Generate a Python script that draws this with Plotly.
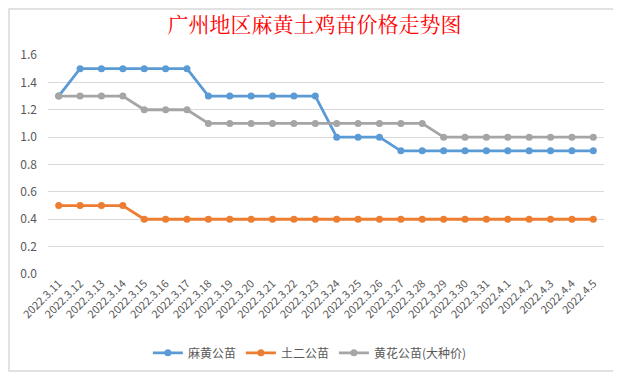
import plotly.graph_objects as go

dates = ["2022.3.11", "2022.3.12", "2022.3.13", "2022.3.14", "2022.3.15", "2022.3.16",
         "2022.3.17", "2022.3.18", "2022.3.19", "2022.3.20", "2022.3.21", "2022.3.22",
         "2022.3.23", "2022.3.24", "2022.3.25", "2022.3.26", "2022.3.27", "2022.3.28",
         "2022.3.29", "2022.3.30", "2022.3.31", "2022.4.1", "2022.4.2", "2022.4.3",
         "2022.4.4", "2022.4.5"]

mahuang = [1.3, 1.5, 1.5, 1.5, 1.5, 1.5, 1.5, 1.3, 1.3, 1.3, 1.3, 1.3, 1.3,
           1.0, 1.0, 1.0, 0.9, 0.9, 0.9, 0.9, 0.9, 0.9, 0.9, 0.9, 0.9, 0.9]
tuer = [0.5, 0.5, 0.5, 0.5, 0.4, 0.4, 0.4, 0.4, 0.4, 0.4, 0.4, 0.4, 0.4,
        0.4, 0.4, 0.4, 0.4, 0.4, 0.4, 0.4, 0.4, 0.4, 0.4, 0.4, 0.4, 0.4]
huanghua = [1.3, 1.3, 1.3, 1.3, 1.2, 1.2, 1.2, 1.1, 1.1, 1.1, 1.1, 1.1, 1.1,
            1.1, 1.1, 1.1, 1.1, 1.1, 1.0, 1.0, 1.0, 1.0, 1.0, 1.0, 1.0, 1.0]

series = [("麻黄公苗", mahuang, "#5B9BD5"),
          ("土二公苗", tuer, "#ED7D31"),
          ("黄花公苗(大种价)", huanghua, "#A5A5A5")]

y_ticks = [0.0, 0.2, 0.4, 0.6, 0.8, 1.0, 1.2, 1.4, 1.6]

font_family = "Noto Sans CJK SC, Microsoft YaHei, sans-serif"

# the page body has an 8px default margin, so the figure is sized to fit the window
FW, FH = 613, 367
ML, MR, MT, MB = 40, 17, 47, 101

fig = go.Figure()
for name, vals, color in series:
    fig.add_trace(go.Scatter(
        x=list(range(len(dates))), y=vals, name=name, mode="lines+markers",
        line=dict(color=color, width=2.8),
        marker=dict(color=color, size=7),
    ))

fig.update_layout(
    width=FW, height=FH,
    margin=dict(l=ML, r=MR, t=MT, b=MB, autoexpand=False),
    paper_bgcolor="white", plot_bgcolor="white",
    title=dict(text="广州地区麻黄土鸡苗价格走势图", x=0.5, xanchor="center",
               y=1 - 17 / FH, yanchor="middle",
               font=dict(family="Noto Serif CJK SC, SimSun, Noto Sans CJK SC, serif",
                         size=21, color="#FF0000")),
    font=dict(family=font_family, color="#595959", size=12),
    showlegend=True,
    legend=dict(orientation="h", x=0.471, xanchor="center", y=-0.36, yanchor="middle",
                font=dict(size=12, color="#595959"), itemwidth=30,
                bgcolor="rgba(0,0,0,0)"),
    xaxis=dict(range=[-0.5, len(dates) - 0.5], tickmode="array",
               tickvals=list(range(len(dates))), ticktext=dates, tickangle=-45,
               showgrid=False, zeroline=False, showline=False, automargin=False,
               tickfont=dict(size=11, color="#595959"), ticks=""),
    yaxis=dict(range=[0, 1.6], tickmode="array", tickvals=y_ticks,
               ticktext=[f"{v:.1f}" for v in y_ticks], ticklabelstandoff=10,
               showgrid=True, gridcolor="#D9D9D9", gridwidth=1, automargin=False,
               zeroline=False, showline=False, ticks="",
               tickfont=dict(size=12, color="#595959")),
)

# chart area border (Excel chart frame), in figure pixel coords
W, H = FW - ML - MR, FH - MT - MB
def px_x(p):
    return (p - ML) / W
def px_y(p):
    return (FH - MB - p) / H
fig.add_shape(type="rect", xref="paper", yref="paper",
              x0=px_x(1), x1=px_x(610), y0=px_y(363), y1=px_y(1),
              line=dict(color="#D9D9D9", width=1.5), fillcolor="rgba(0,0,0,0)",
              layer="below")

fig.write_html("out.html")
